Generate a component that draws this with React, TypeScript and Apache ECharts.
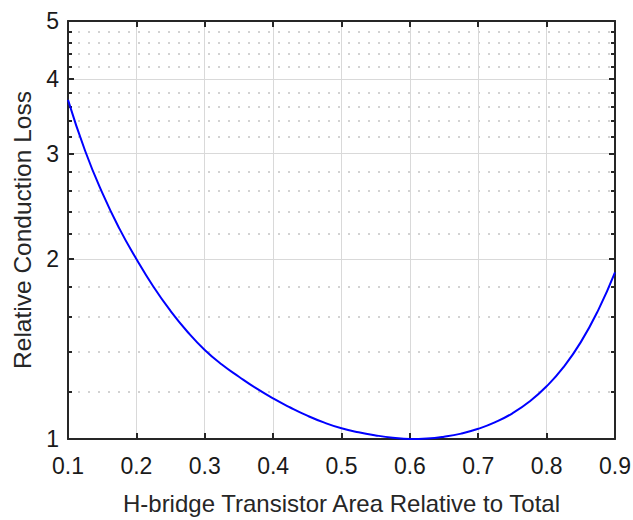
import React, { useEffect, useRef } from 'react';
import * as echarts from 'echarts';

const areaFraction = [0.1, 0.125, 0.15, 0.175, 0.2, 0.225, 0.25, 0.275, 0.3, 0.325, 0.35, 0.375, 0.4, 0.425, 0.45, 0.475, 0.5, 0.525, 0.55, 0.575, 0.6, 0.625, 0.65, 0.675, 0.7, 0.725, 0.75, 0.775, 0.8, 0.825, 0.85, 0.875, 0.9];
const relativeLoss = [3.69, 3.034, 2.582, 2.25, 2.0, 1.797, 1.637, 1.51, 1.409, 1.332, 1.271, 1.216, 1.169, 1.129, 1.094, 1.065, 1.042, 1.026, 1.014, 1.005, 1.0, 1.002, 1.009, 1.021, 1.04, 1.067, 1.104, 1.155, 1.225, 1.32, 1.452, 1.638, 1.9];

const xMin = 0.1;
const xMax = 0.9;
const xStep = 0.1;
const yMin = 1;
const yMax = 5;
const yMajorTicks = [1, 2, 3, 4, 5];
const yMinorTicks = [1.2, 1.4, 1.6, 1.8, 2.2, 2.4, 2.6, 2.8, 3.2, 3.4, 3.6, 3.8, 4.2, 4.4, 4.6, 4.8];

const xTitle = 'H-bridge Transistor Area Relative to Total';
const yTitle = 'Relative Conduction Loss';

const FONT = '"Liberation Sans", Arial, Helvetica, sans-serif';
const AXIS_COLOR = '#262626';

export default function App() {
  const ref = useRef<HTMLDivElement>(null);
  useEffect(() => {
    if (!ref.current) return;
    const chart = echarts.init(ref.current, null, { renderer: 'svg' });
    const axisLine = { show: true, onZero: false, lineStyle: { color: AXIS_COLOR, width: 2 } };
    const majorTick = { show: true, inside: true, length: 6, lineStyle: { color: AXIS_COLOR, width: 2 } };
    const yMajorBase = {
      type: 'log' as const,
      logBase: 10,
      min: yMin,
      max: yMax,
      axisLine,
    };
    chart.setOption({
      animation: false,
      backgroundColor: '#ffffff',
      textStyle: { fontFamily: FONT },
      grid: { left: 68, right: 18, top: 21, bottom: 81, containLabel: false, outerBoundsMode: 'none' },
      xAxis: [
        {
          type: 'value',
          position: 'bottom',
          min: xMin,
          max: xMax,
          interval: xStep,
          name: xTitle,
          nameLocation: 'middle',
          nameGap: 52,
          nameTextStyle: { fontSize: 24, color: AXIS_COLOR, fontFamily: FONT },
          axisLine,
          axisTick: majorTick,
          axisLabel: {
            fontSize: 23,
            color: '#1a1a1a',
            margin: 15,
            fontFamily: FONT,
            formatter: (v: number) => v.toFixed(1),
          },
          splitLine: { show: true, lineStyle: { color: '#d9d9d9', width: 1 } },
        },
        {
          type: 'value',
          position: 'top',
          min: xMin,
          max: xMax,
          interval: xStep,
          axisLine,
          axisTick: majorTick,
          axisLabel: { show: false },
          splitLine: { show: false },
        },
      ],
      yAxis: [
        {
          ...yMajorBase,
          position: 'left',
          name: yTitle,
          nameLocation: 'middle',
          nameGap: 31,
          nameTextStyle: { fontSize: 24.5, color: AXIS_COLOR, fontFamily: FONT },
          axisTick: { ...majorTick, customValues: yMajorTicks },
          axisLabel: { customValues: yMajorTicks, fontSize: 23, color: '#1a1a1a', margin: 9, fontFamily: FONT },
          splitLine: { show: true, lineStyle: { color: '#d9d9d9', width: 1 } },
        },
        {
          ...yMajorBase,
          position: 'left',
          axisLine: { show: false },
          axisTick: { show: true, inside: true, length: 4, customValues: yMinorTicks, lineStyle: { color: AXIS_COLOR, width: 2 } },
          axisLabel: { show: false, customValues: yMinorTicks },
          splitLine: { show: true, lineStyle: { color: '#c4c4c4', width: 1.5, type: [2, 8] } },
        },
        {
          ...yMajorBase,
          position: 'right',
          axisTick: { ...majorTick, customValues: yMajorTicks },
          axisLabel: { show: false, customValues: yMajorTicks },
          splitLine: { show: false },
        },
        {
          ...yMajorBase,
          position: 'right',
          axisLine: { show: false },
          axisTick: { show: true, inside: true, length: 4, customValues: yMinorTicks, lineStyle: { color: AXIS_COLOR, width: 2 } },
          axisLabel: { show: false, customValues: yMinorTicks },
          splitLine: { show: false },
        },
      ],
      series: [
        {
          type: 'line',
          xAxisIndex: 0,
          yAxisIndex: 0,
          data: areaFraction.map((x, i) => [x, relativeLoss[i]]),
          showSymbol: false,
          smooth: 0.5,
          lineStyle: { color: '#0000ff', width: 2 },
          z: 10,
        },
      ],
    });
    return () => chart.dispose();
  }, []);
  return <div ref={ref} style={{ position: 'fixed', left: 0, top: 0, width: 633, height: 520 }} />;
}
